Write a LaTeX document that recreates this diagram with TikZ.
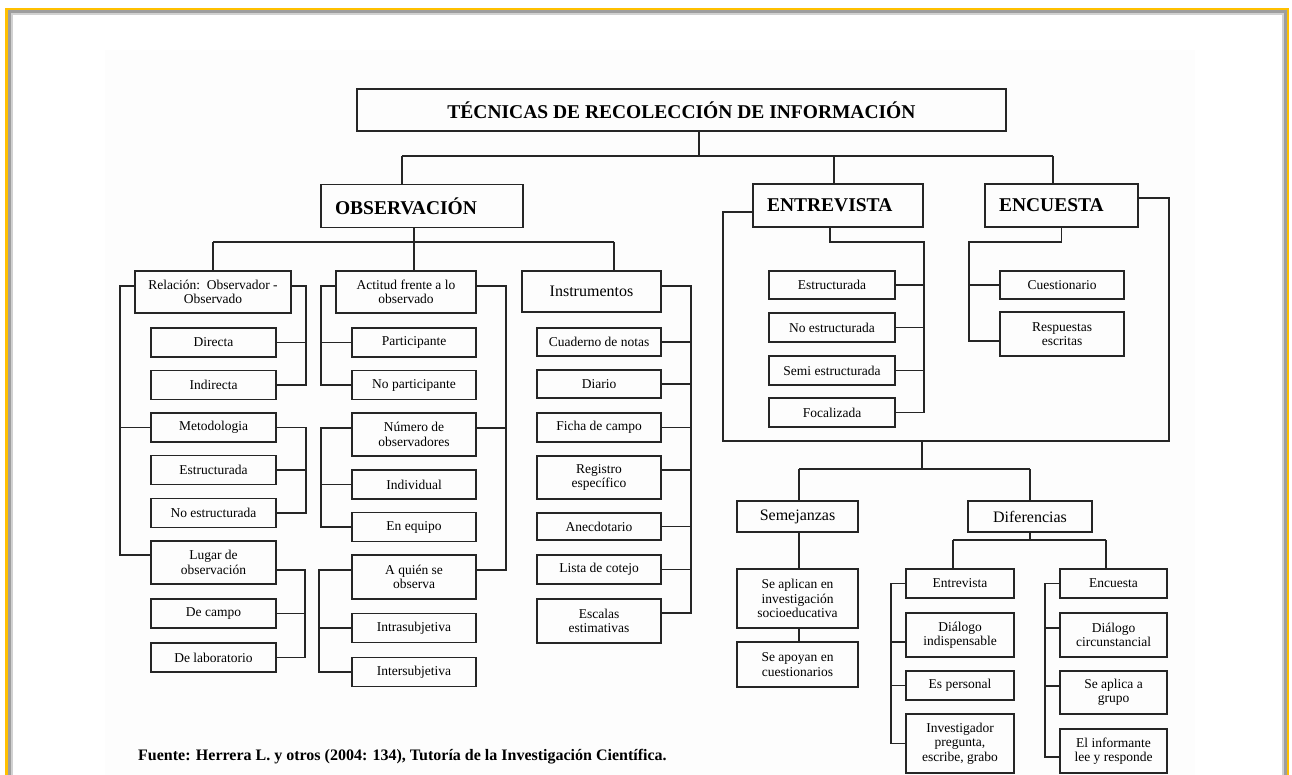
\documentclass[tikz,border=0pt]{standalone}
\usepackage{fontspec}
\setmainfont{Liberation Serif}
\definecolor{frameyellow}{HTML}{FFC000}
\tikzset{
x=1pt, y=-1pt,
box/.style={draw=black!85, line width=1.4pt, inner sep=0pt, align=center,
  font=\fontsize{13.5}{14.5}\selectfont, minimum height=29},
head/.style={box, font=\bfseries\fontsize{19.5}{22}\selectfont, minimum height=43,
  inner xsep=14pt, align=left},
mid/.style={box, font=\fontsize{16}{18}\selectfont},
tall/.style={minimum height=43},
colA/.style={box, minimum width=125},
colB/.style={box, minimum width=124},
colC/.style={box, minimum width=124},
colE/.style={box, minimum width=126},
colD/.style={box, minimum width=108},
colF/.style={box, minimum width=107},
conn/.style={draw=black!85, line width=1.4pt},
}

\begin{document}
\begin{tikzpicture}
    \useasboundingbox (0,0) rectangle (1292,775);
    \fill[white] (0,0) rectangle (1292,775);
    \fill[black!0.6] (105,50) rectangle (1195,775);
    % frame of the page
    \draw[line width=2.5, frameyellow] (6.5,775) |- (1288,9) -- (1288,775);
    \draw[line width=3, black!38] (9.5,775) |- (1285.5,11.5) -- (1285.5,775);
    \draw[line width=2, black!18] (12,775) |- (1283,14) -- (1283,775);

    % top levels
    \node[box, font=\bfseries\fontsize{19.5}{22}\selectfont, minimum width=649, minimum height=42] (title) at (681.5,110) {TÉCNICAS DE RECOLECCIÓN DE INFORMACIÓN};
    \node[head, text width=174] (obs) at (422,206) {OBSERVACIÓN};
    \node[head, text width=142] (ent) at (838,205.5) {ENTREVISTA};
    \node[head, text width=125] (enc) at (1061.5,205.5) {ENCUESTA};

    % observacion
    \node[box, minimum width=156, minimum height=42] (rel) at (213,292) {Relación:~~Observador -\\Observado};
    \node[colA] (directa) at (213.5,342.5) {Directa};
    \node[colA] (indir) at (213.5,385) {Indirecta};
    \node[colA] (metod) at (213.5,427.5) {Metodologia};
    \node[colA] (estrA) at (213.5,470) {Estructurada};
    \node[colA] (noestrA) at (213.5,513) {No estructurada};
    \node[colA, tall] (lugar) at (213.5,562.5) {Lugar de\\observación};
    \node[colA] (decampo) at (213.5,613.5) {De campo};
    \node[colA] (delab) at (213.5,657.5) {De laboratorio};

    \node[box, minimum width=140, minimum height=42] (act) at (406,292) {Actitud frente a lo\\observado};
    \node[colB] (part) at (414,342.5) {Participante};
    \node[colB] (nopart) at (414,385) {No participante};
    \node[colB, tall] (numobs) at (414,434.5) {Número de\\observadores};
    \node[colB] (indiv) at (414,484.5) {Individual};
    \node[colB] (enequipo) at (414,527) {En equipo};
    \node[colB, minimum height=44] (aquien) at (414,577) {A quién se\\observa};
    \node[colB] (intra) at (414,628) {Intrasubjetiva};
    \node[colB] (inter) at (414,672) {Intersubjetiva};

    \node[mid, minimum width=139, minimum height=41] (ins) at (591.5,291.5) {Instrumentos};
    \node[colC, minimum height=28] (cuad) at (599,342) {Cuaderno de notas};
    \node[colC, minimum height=28] (diario) at (599,384) {Diario};
    \node[colC] (ficha) at (599,427.5) {Ficha de campo};
    \node[colC, tall] (regis) at (599,477.5) {Registro\\específico};
    \node[colC, minimum height=27] (anecd) at (599,526.5) {Anecdotario};
    \node[colC] (lista) at (599,569.5) {Lista de cotejo};
    \node[colC, minimum height=44] (escalas) at (599,621) {Escalas\\estimativas};

    % entrevista y encuesta
    \node[colE, minimum height=28] (estrE) at (832,285) {Estructurada};
    \node[colE] (noestrE) at (832,327.5) {No estructurada};
    \node[colE] (semiE) at (832,370.5) {Semi estructurada};
    \node[colE] (focal) at (832,412.5) {Focalizada};
    \node[box, minimum width=124, minimum height=28] (cuest) at (1062,285) {Cuestionario};
    \node[box, minimum width=124, minimum height=44] (resp) at (1062,334) {Respuestas\\escritas};

    % comparacion
    \node[mid, minimum width=121, minimum height=31] (sem) at (797.5,516.5) {Semejanzas};
    \node[mid, minimum width=124, minimum height=31] (dif) at (1030,516.5) {Diferencias};
    \node[box, minimum width=121, minimum height=59] (seapl) at (797.5,598.5) {Se aplican en\\investigación\\socioeducativa};
    \node[box, minimum width=121, minimum height=45] (seapo) at (797.5,664.5) {Se apoyan en\\cuestionarios};
    \node[colD] (entD) at (960,583.5) {Entrevista};
    \node[colD, minimum height=44] (dialI) at (960,635) {Diálogo\\indispensable};
    \node[colD] (espers) at (960,685.5) {Es personal};
    \node[colD, minimum height=59] (invest) at (960,743.5) {Investigador\\pregunta,\\escribe, grabo};
    \node[colF] (encD) at (1113.5,583.5) {Encuesta};
    \node[colF, minimum height=44] (dialC) at (1113.5,635) {Diálogo\\circunstancial};
    \node[colF, tall] (seapli) at (1113.5,692.5) {Se aplica a\\grupo};
    \node[colF, minimum height=44] (inform) at (1113.5,751) {El informante\\lee y responde};

    \node[anchor=west, inner sep=0pt, font=\bfseries\fontsize{16}{18}\selectfont] (fuente) at (138,757) {Fuente: Herrera L. y otros (2004: 134), Tutoría de la Investigación Científica.};

    % junctions and rails
    \coordinate (tj) at (699,156);
    \coordinate (tl) at (402,156);
    \coordinate (te) at (834,156);
    \coordinate (tr) at (1053,156);
    \coordinate (oj) at (414,242);
    \coordinate (ol) at (213,242);
    \coordinate (or) at (614,242);
    \coordinate (railA1) at (120,286);
    \coordinate (railA2) at (306,286);
    \coordinate (railA3) at (306,427.5);
    \coordinate (railA4) at (305,570);
    \coordinate (railB1) at (321,286);
    \coordinate (railB2) at (321,428);
    \coordinate (railB3) at (319,570);
    \coordinate (railB4) at (506,286);
    \coordinate (railC) at (691,286);
    \coordinate (railE) at (924,242);
    \coordinate (railN) at (969,242);
    \coordinate (bl) at (723,441);
    \coordinate (br) at (1169,441);
    \coordinate (bj) at (922,441);
    \coordinate (sj) at (922,469);
    \coordinate (sl) at (799,469);
    \coordinate (sr) at (1030,469);
    \coordinate (dj) at (1030,540);
    \coordinate (dl) at (953,540);
    \coordinate (dr) at (1106,540);
    \coordinate (railD) at (891,583.5);
    \coordinate (railF) at (1045,583.5);

    % connectors
    \draw[conn] (title.south -| tj) -- (tj);
    \draw[conn] (tl) -- (tr);
    \draw[conn] (tl) -- (tl |- obs.north);
    \draw[conn] (te) -- (te |- ent.north);
    \draw[conn] (tr) -- (tr |- enc.north);

    \draw[conn] (obs.south -| oj) -- (oj);
    \draw[conn] (ol) -- (or);
    \draw[conn] (ol) -- (ol |- rel.north);
    \draw[conn] (oj) -- (oj |- act.north);
    \draw[conn] (or) -- (or |- ins.north);

    \draw[conn] ([yshift=6]rel.west) -- (railA1) |- ([yshift=7.5]lugar.west);
    \draw[conn] (metod.west) -- (metod.west -| railA1);
    \draw[conn] ([yshift=6]rel.east) -- (railA2) |- (indir.east);
    \draw[conn] (directa.east) -- (directa.east -| railA2);
    \draw[conn] (metod.east) -- (railA3) |- (noestrA.east);
    \draw[conn] (estrA.east) -- (estrA.east -| railA3);
    \draw[conn] ([yshift=-7.5]lugar.east) -- (railA4) |- (delab.east);
    \draw[conn] (decampo.east) -- (decampo.east -| railA4);

    \draw[conn] ([yshift=6]act.west) -- (railB1) |- (nopart.west);
    \draw[conn] (part.west) -- (part.west -| railB1);
    \draw[conn] ([yshift=6.5]numobs.west) -- (railB2) |- (enequipo.west);
    \draw[conn] (indiv.west) -- (indiv.west -| railB2);
    \draw[conn] ([yshift=7]aquien.west) -- (railB3) |- (inter.west);
    \draw[conn] (intra.west) -- (intra.west -| railB3);
    \draw[conn] ([yshift=6]act.east) -- (railB4) |- ([yshift=7]aquien.east);
    \draw[conn] ([yshift=6.5]numobs.east) -- ([yshift=6.5]numobs.east -| railB4);

    \draw[conn] ([yshift=5.5]ins.east) -- (railC) |- ([yshift=8]escalas.east);
    \foreach \n in {cuad, diario, ficha, anecd, lista}
        \draw[conn] (\n.east) -- (\n.east -| railC);
    \draw[conn] ([yshift=7.5]regis.east) -- ([yshift=7.5]regis.east -| railC);

    \draw[conn] ([xshift=-8]ent.south) |- (railE) |- (focal.east);
    \foreach \n in {estrE, noestrE, semiE}
        \draw[conn] (\n.east) -- (\n.east -| railE);
    \draw[conn] (enc.south) |- (railN) |- ([yshift=-7]resp.west);
    \draw[conn] (cuest.west) -- (cuest.west -| railN);

    \draw[conn] ([yshift=-6.5]ent.west) -| (bl) -- (br) |- ([yshift=7.5]enc.east);
    \draw[conn] (bj) -- (sj);
    \draw[conn] (sl) -- (sr);
    \draw[conn] (sl) -- (sl |- sem.north);
    \draw[conn] (sr) -- (dif.north);
    \draw[conn] (sem.south -| sl) -- (sl |- seapl.north);
    \draw[conn] (seapl.south -| sl) -- (sl |- seapo.north);

    \draw[conn] (dif.south) -- (dj);
    \draw[conn] (dl) -- (dr);
    \draw[conn] (dl) -- (dl |- entD.north);
    \draw[conn] (dr) -- (dr |- encD.north);
    \draw[conn] (entD.west) -- (railD) |- (invest.west);
    \draw[conn] ([yshift=-7]dialI.west) -- ([yshift=-7]dialI.west -| railD);
    \draw[conn] (espers.west) -- (espers.west -| railD);
    \draw[conn] (encD.west) -- (railF) |- ([yshift=-6]inform.west);
    \draw[conn] ([yshift=7]dialC.west) -- ([yshift=7]dialC.west -| railF);
    \draw[conn] ([yshift=6.5]seapli.west) -- ([yshift=6.5]seapli.west -| railF);
\end{tikzpicture}
\end{document}
